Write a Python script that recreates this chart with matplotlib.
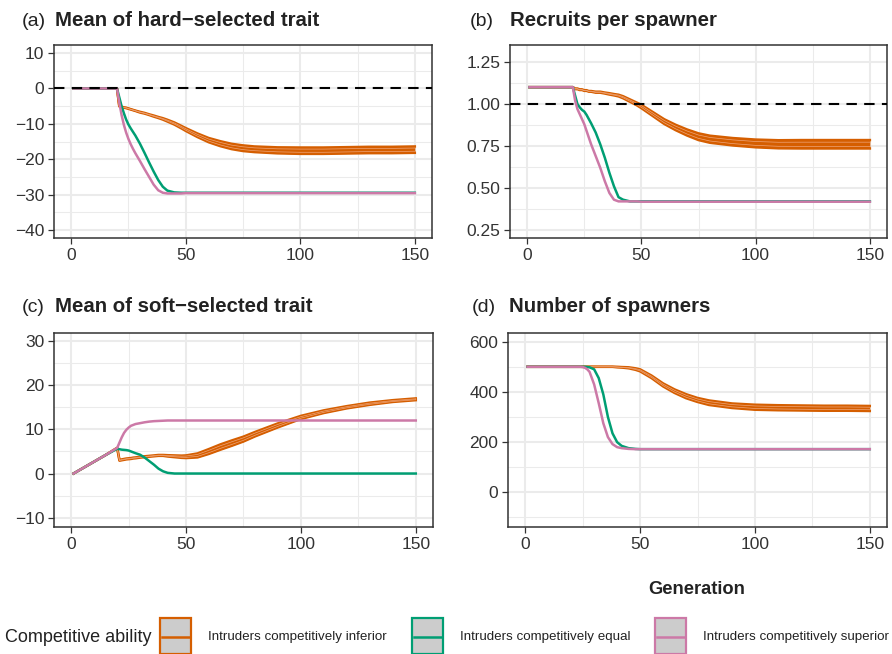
import matplotlib
matplotlib.use("Agg")
import matplotlib.pyplot as plt
from matplotlib.patches import Rectangle
from matplotlib.lines import Line2D
from matplotlib.ticker import MultipleLocator
import numpy as np

plt.rcParams["font.family"] = ["Liberation Sans", "DejaVu Sans"]

gens = [1, 5, 10, 15, 20, 21, 22, 23, 24, 25, 26, 27, 28, 30, 32, 34, 36, 38,
        40, 42, 45, 48, 50, 55, 60, 65, 70, 75, 80, 90, 100, 110, 120, 130, 140, 150]

# (a) mean of hard-selected trait
hard_inferior = [0, 0, 0, 0, 0, -5.0, -5.2, -5.4, -5.5, -5.7, -5.9, -6.1, -6.3, -6.7, -7.0,
                 -7.4, -7.8, -8.2, -8.6, -9.1, -9.9, -10.9, -11.6, -13.2, -14.6, -15.6,
                 -16.4, -16.9, -17.2, -17.5, -17.6, -17.6, -17.5, -17.4, -17.4, -17.3]
hard_inferior_sd = [0, 0, 0, 0, 0, 0.05, 0.05, 0.05, 0.05, 0.05, 0.05, 0.05, 0.05, 0.1, 0.1,
                    0.1, 0.15, 0.15, 0.2, 0.25, 0.3, 0.35, 0.4, 0.5, 0.6, 0.7, 0.75, 0.8,
                    0.8, 0.85, 0.9, 0.9, 0.9, 0.9, 0.9, 0.9]
hard_equal = [0, 0, 0, 0, 0, -2.5, -5.0, -7.0, -8.8, -10.2, -11.3, -12.3, -13.3, -15.6, -18.2,
              -20.9, -23.5, -25.9, -27.8, -28.9, -29.4, -29.5, -29.5, -29.5, -29.5, -29.5,
              -29.5, -29.5, -29.5, -29.5, -29.5, -29.5, -29.5, -29.5, -29.5, -29.5]
hard_superior = [0, 0, 0, 0, 0, -4.0, -7.5, -10.3, -12.5, -14.3, -15.8, -17.1, -18.3, -20.5,
                 -22.8, -25.0, -27.2, -28.8, -29.5, -29.7, -29.7, -29.7, -29.6, -29.6, -29.6,
                 -29.6, -29.6, -29.6, -29.6, -29.6, -29.6, -29.6, -29.6, -29.6, -29.6, -29.6]

# (b) recruits per spawner
rps_inferior = [1.10, 1.10, 1.10, 1.10, 1.10, 1.09, 1.09, 1.085, 1.085, 1.08, 1.08, 1.075,
                1.075, 1.07, 1.07, 1.065, 1.06, 1.055, 1.05, 1.04, 1.02, 1.00, 0.985, 0.94,
                0.895, 0.86, 0.83, 0.805, 0.79, 0.775, 0.765, 0.76, 0.76, 0.76, 0.76, 0.76]
rps_inferior_sd = [0, 0, 0, 0, 0, 0.002, 0.002, 0.002, 0.002, 0.002, 0.002, 0.002, 0.002,
                   0.003, 0.003, 0.003, 0.004, 0.004, 0.005, 0.006, 0.007, 0.008, 0.01, 0.012,
                   0.014, 0.016, 0.018, 0.02, 0.021, 0.022, 0.023, 0.024, 0.025, 0.025,
                   0.025, 0.025]
rps_equal = [1.10, 1.10, 1.10, 1.10, 1.10, 1.05, 1.00, 0.98, 0.965, 0.955, 0.935, 0.91, 0.885,
             0.83, 0.76, 0.68, 0.59, 0.51, 0.445, 0.43, 0.42, 0.42, 0.42, 0.42, 0.42, 0.42,
             0.42, 0.42, 0.42, 0.42, 0.42, 0.42, 0.42, 0.42, 0.42, 0.42]
rps_superior = [1.10, 1.10, 1.10, 1.10, 1.10, 1.02, 0.97, 0.94, 0.91, 0.88, 0.84, 0.80, 0.76,
                0.69, 0.62, 0.54, 0.47, 0.43, 0.42, 0.42, 0.42, 0.42, 0.418, 0.418, 0.418,
                0.418, 0.418, 0.418, 0.418, 0.418, 0.418, 0.418, 0.418, 0.418, 0.418, 0.418]

# (c) mean of soft-selected trait
soft_inferior = [0, 1.2, 2.7, 4.2, 5.8, 3.0, 3.1, 3.2, 3.3, 3.35, 3.4, 3.5, 3.55, 3.7, 3.8,
                 3.9, 4.0, 4.1, 4.1, 4.0, 3.9, 3.8, 3.8, 4.1, 5.0, 6.0, 6.9, 7.8, 8.9, 10.9,
                 12.7, 14.0, 15.0, 15.8, 16.4, 16.8]
soft_inferior_sd = [0, 0, 0, 0, 0, 0.1, 0.1, 0.1, 0.1, 0.1, 0.1, 0.1, 0.1, 0.1, 0.1,
                    0.1, 0.1, 0.1, 0.1, 0.15, 0.2, 0.25, 0.3, 0.45, 0.55, 0.6, 0.6, 0.55,
                    0.5, 0.45, 0.35, 0.3, 0.25, 0.25, 0.2, 0.2]
soft_equal = [0, 1.2, 2.7, 4.2, 5.6, 5.5, 5.4, 5.35, 5.3, 5.2, 5.0, 4.8, 4.6, 4.25, 3.6, 2.8,
              2.0, 1.1, 0.5, 0.15, 0, 0, 0, 0, 0, 0, 0, 0, 0, 0, 0, 0, 0, 0, 0, 0]
soft_superior = [0, 1.2, 2.7, 4.2, 5.8, 7.0, 8.2, 9.2, 9.9, 10.4, 10.8, 11.0, 11.2, 11.4, 11.6,
                 11.75, 11.85, 11.9, 11.95, 12.0, 12.0, 12.0, 12.0, 12.0, 12.0, 12.0, 12.0,
                 12.0, 12.0, 12.0, 12.0, 12.0, 12.0, 12.0, 12.0, 12.0]

# (d) number of spawners
spawn_inferior = [500, 500, 500, 500, 500, 500, 500, 500, 500, 500, 500, 500, 500, 500, 500,
                  500, 500, 500, 499, 498, 496, 491, 486, 460, 428, 403, 383, 368, 357, 345,
                  339, 337, 336, 335, 335, 334]
spawn_inferior_sd = [0, 0, 0, 0, 0, 0, 0, 0, 0, 0, 0, 0, 0, 0, 0, 0, 0, 0, 1, 1, 2, 3, 4, 5,
                     6, 7, 8, 8, 9, 9, 10, 10, 10, 10, 10, 10]
spawn_equal = [500, 500, 500, 500, 500, 500, 500, 500, 500, 500, 500, 499, 498, 490, 455, 390,
               300, 235, 200, 185, 176, 173, 172, 172, 172, 172, 172, 172, 172, 172, 172, 172,
               172, 172, 172, 172]
spawn_superior = [500, 500, 500, 500, 500, 500, 500, 500, 500, 499, 496, 490, 480, 430, 355,
                  275, 220, 192, 180, 176, 173, 172, 172, 172, 172, 172, 172, 172, 172, 172,
                  172, 172, 172, 172, 172, 172]

labels = ["Intruders competitively inferior", "Intruders competitively equal",
          "Intruders competitively superior"]
colors = ["#D55E00", "#009E73", "#CC79A7"]

W, H = 892, 654


def fig_rect(l, t, r, b):
    return [l / W, 1 - b / H, (r - l) / W, (b - t) / H]


def minus(v, p):
    return f"{v:.0f}".replace("-", "\u2212")


def style_axis(ax, ylim, ymajor, yminor, yfmt):
    ax.set_xlim(-7.5, 157.5)
    ax.set_ylim(*ylim)
    ax.xaxis.set_major_locator(MultipleLocator(50))
    ax.xaxis.set_minor_locator(MultipleLocator(25))
    ax.yaxis.set_major_locator(MultipleLocator(ymajor))
    ax.yaxis.set_minor_locator(MultipleLocator(yminor))
    ax.yaxis.set_major_formatter(yfmt)
    ax.xaxis.set_major_formatter(minus)
    ax.grid(which="major", color="#EBEBEB", lw=1.5)
    ax.grid(which="minor", color="#EBEBEB", lw=0.75)
    ax.set_axisbelow(True)
    ax.tick_params(which="major", length=4, width=0.9, color="#333333",
                   labelsize=12.5, labelcolor="#333333", pad=3)
    ax.tick_params(which="minor", length=0)
    for s in ax.spines.values():
        s.set_color("#333333")
        s.set_linewidth(1.1)


def draw_panel(ax, inferior, inferior_sd, equal, superior):
    x = np.array(gens)
    mid = np.array(inferior)
    sd = np.array(inferior_sd)
    ax.fill_between(x, mid - sd, mid + sd, color=colors[0], lw=0, zorder=3)
    for k in (-1, 1):
        ax.plot(x, mid + k * sd, color=colors[0], lw=1.8, zorder=3)
    ax.plot(x, mid - sd / 2, color="#EFA57A", lw=0.5, zorder=3)
    ax.plot(x, mid + sd / 2, color="#EFA57A", lw=0.5, zorder=3)
    ax.plot(x, equal, color=colors[1], lw=1.8, zorder=4)
    ax.plot(x, superior, color=colors[2], lw=1.8, zorder=5)


fig = plt.figure(figsize=(W / 100, H / 100), dpi=100)

ax_a = fig.add_axes(fig_rect(54, 45, 432, 238))
draw_panel(ax_a, hard_inferior, hard_inferior_sd, hard_equal, hard_superior)
ax_a.axhline(0, color="black", ls=(0, (5, 3.5)), lw=1.5, zorder=6)
style_axis(ax_a, (-42.3, 12.3), 10, 5, minus)

ax_b = fig.add_axes(fig_rect(510, 45, 887, 238))
draw_panel(ax_b, rps_inferior, rps_inferior_sd, rps_equal, rps_superior)
ax_b.axhline(1.0, color="black", ls=(0, (5, 3.5)), lw=1.5, zorder=6)
style_axis(ax_b, (0.202, 1.351), 0.25, 0.125, lambda v, p: f"{v:.2f}")

ax_c = fig.add_axes(fig_rect(54, 333, 433, 527))
draw_panel(ax_c, soft_inferior, soft_inferior_sd, soft_equal, soft_superior)
style_axis(ax_c, (-12.1, 31.8), 10, 5, minus)

ax_d = fig.add_axes(fig_rect(508, 333, 887, 527))
draw_panel(ax_d, spawn_inferior, spawn_inferior_sd, spawn_equal, spawn_superior)
style_axis(ax_d, (-138, 634.6), 200, 100, minus)

titles = [("(a)", 22, 55, 21, "Mean of hard\u2212selected trait"),
          ("(b)", 470, 510, 21, "Recruits per spawner"),
          ("(c)", 22, 55, 307, "Mean of soft\u2212selected trait"),
          ("(d)", 472, 509, 307, "Number of spawners")]
for tag, tx, bx, ty, title in titles:
    fig.text(tx / W, 1 - ty / H, tag, fontsize=14, color="#222222", va="center", ha="left")
    fig.text(bx / W, 1 - ty / H, title, fontsize=14.7, fontweight="bold", color="#222222",
             va="center", ha="left")

fig.text(697 / W, 1 - 590 / H, "Generation", fontsize=13.2, fontweight="bold",
         color="#222222", ha="center", va="center")

# legend
fig.text(5 / W, 1 - 637 / H, "Competitive ability", fontsize=13, color="#222222",
         va="center", ha="left")
for lab, col, bx in zip(labels, colors, [160, 412, 655]):
    fig.patches.append(Rectangle((bx / W, 0), 31 / W, (H - 618) / H, transform=fig.transFigure,
                                 facecolor="#CCCCCC", edgecolor=col, lw=1.6))
    fig.lines.append(Line2D([(bx + 2) / W, (bx + 29) / W], [1 - 637 / H, 1 - 637 / H],
                            transform=fig.transFigure, color=col, lw=1.8))
    fig.text((bx + 48) / W, 1 - 637 / H, lab, fontsize=9.6, color="#222222",
             va="center", ha="left")

fig.savefig("out.png", dpi=100)
